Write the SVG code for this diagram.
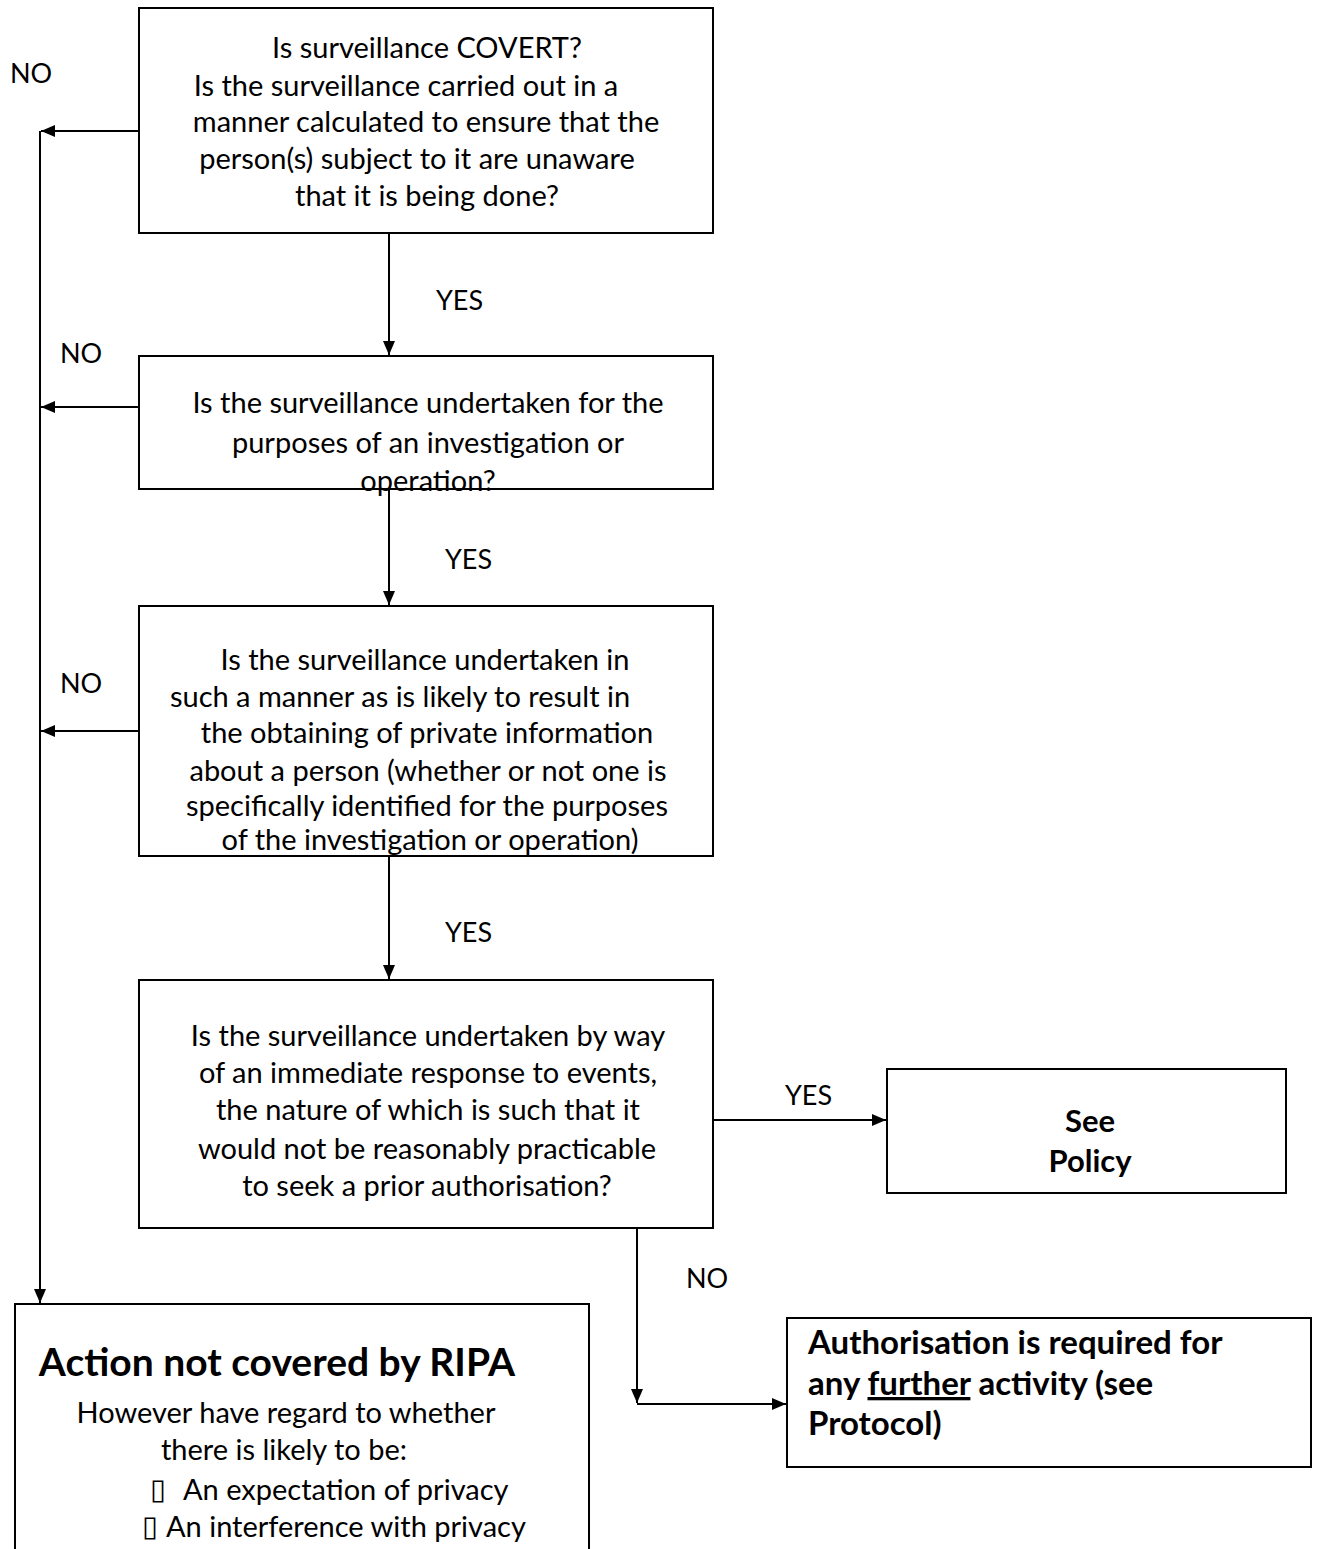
<svg xmlns="http://www.w3.org/2000/svg" width="1319" height="1549" viewBox="0 0 1319 1549">
<defs>
<marker id="arr" viewBox="0 0 14 12" refX="14" refY="6" markerWidth="14" markerHeight="12" markerUnits="userSpaceOnUse" orient="auto">
<path d="M0,0 L14,6 L0,12 Z" fill="#000"/>
</marker>
<style>
.box{fill:#fff;stroke:#000;stroke-width:2}
.t{font-family:Lato,"Liberation Sans",sans-serif;font-size:29px;fill:#000;text-anchor:middle}
.lbl{font-family:Lato,"Liberation Sans",sans-serif;font-size:27px;fill:#000}
.bl{font-family:Lato,"Liberation Sans",sans-serif;font-size:29px;fill:#000}
.b{font-family:Lato,"Liberation Sans",sans-serif;font-weight:bold;fill:#000}
.c{fill:none;stroke:#000;stroke-width:2}
</style>
</defs>
<rect width="1319" height="1549" fill="#fff"/>
<g id="connectors">
<path class="c" d="M139,131 H41" marker-end="url(#arr)"/>
<path class="c" d="M40,131 V1303" marker-end="url(#arr)"/>
<path class="c" d="M139,407 H41" marker-end="url(#arr)"/>
<path class="c" d="M139,731 H41" marker-end="url(#arr)"/>
<path class="c" d="M389,233 V355" marker-end="url(#arr)"/>
<path class="c" d="M389,489 V605" marker-end="url(#arr)"/>
<path class="c" d="M389,856 V979" marker-end="url(#arr)"/>
<path class="c" d="M713,1120 H886" marker-end="url(#arr)"/>
<path class="c" d="M637,1228 V1403" marker-end="url(#arr)"/>
<path class="c" d="M637,1404 H786" marker-end="url(#arr)"/>
<text class="lbl" x="10" y="83">NO</text>
<text class="lbl" x="60" y="363">NO</text>
<text class="lbl" x="60" y="693">NO</text>
<text class="lbl" x="436" y="310">YES</text>
<text class="lbl" x="445" y="569">YES</text>
<text class="lbl" x="445" y="942">YES</text>
<text class="lbl" x="785" y="1105">YES</text>
<text class="lbl" x="686" y="1288">NO</text>
</g>
<g id="n1">
<rect class="box" x="139" y="8" width="574" height="225"/>
<text class="t" x="427" y="58">Is surveillance COVERT?</text>
<text class="t" x="406" y="96">Is the surveillance carried out in a</text>
<text class="t" x="426" y="132">manner calculated to ensure that the</text>
<text class="t" x="417" y="169">person(s) subject to it are unaware</text>
<text class="t" x="427" y="206">that it is being done?</text>
</g>
<g id="n2">
<rect class="box" x="139" y="356" width="574" height="133"/>
<text class="t" x="428" y="413">Is the surveillance undertaken for the</text>
<text class="t" x="428" y="453">purposes of an investigation or</text>
<text class="t" x="428" y="491">operation?</text>
</g>
<g id="n3">
<rect class="box" x="139" y="606" width="574" height="250"/>
<text class="t" x="425" y="670">Is the surveillance undertaken in</text>
<text class="t" x="400" y="707">such a manner as is likely to result in</text>
<text class="t" x="427" y="743">the obtaining of private information</text>
<text class="t" x="428" y="781">about a person (whether or not one is</text>
<text class="t" x="427" y="816">specifically identified for the purposes</text>
<text class="t" x="430" y="850">of the investigation or operation)</text>
</g>
<g id="n4">
<rect class="box" x="139" y="980" width="574" height="248"/>
<text class="t" x="428" y="1046">Is the surveillance undertaken by way</text>
<text class="t" x="428" y="1083">of an immediate response to events,</text>
<text class="t" x="428" y="1120">the nature of which is such that it</text>
<text class="t" x="427" y="1159">would not be reasonably practicable</text>
<text class="t" x="427" y="1196">to seek a prior authorisation?</text>
</g>
<g id="n5">
<rect class="box" x="887" y="1069" width="399" height="124"/>
<text class="b" x="1090" y="1132" font-size="31" text-anchor="middle">See</text>
<text class="b" x="1090" y="1172" font-size="31" text-anchor="middle">Policy</text>
</g>
<g id="n6">
<rect class="box" x="787" y="1318" width="524" height="149"/>
<text class="b" x="808" y="1354" font-size="33">Authorisation is required for</text>
<text class="b" x="808" y="1395" font-size="33">any <tspan text-decoration="underline">further</tspan> activity (see</text>
<text class="b" x="808" y="1435" font-size="33">Protocol)</text>
</g>
<g id="n7">
<path class="c" d="M15,1560 V1304 H589 V1560"/>
<text class="b" x="277" y="1376" font-size="39" text-anchor="middle">Action not covered by RIPA</text>
<text class="t" x="286" y="1423">However have regard to whether</text>
<text class="t" x="284" y="1460">there is likely to be:</text>
<text class="bl" x="150" y="1499" font-family="DejaVu Sans" font-size="18">▯</text>
<text class="bl" x="183" y="1500">An expectation of privacy</text>
<text class="bl" x="142" y="1536" font-family="DejaVu Sans" font-size="18">▯</text>
<text class="bl" x="166" y="1537">An interference with privacy</text>
</g>
</svg>
